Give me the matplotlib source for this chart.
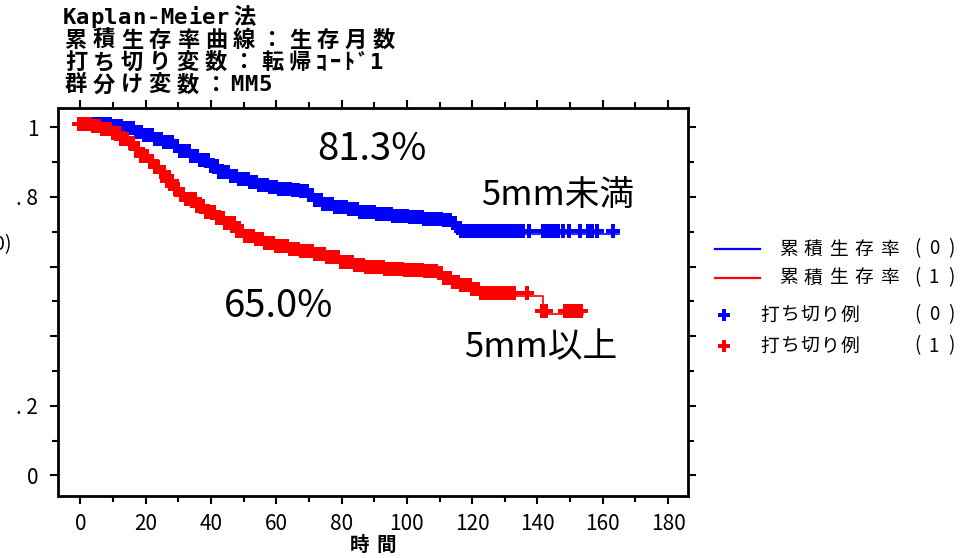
import numpy as np
import matplotlib
matplotlib.use('Agg')
import matplotlib.pyplot as plt
from matplotlib.lines import Line2D
from matplotlib.transforms import ScaledTranslation

plt.rcParams['font.family'] = ['Noto Sans CJK JP', 'DejaVu Sans']

# Kaplan-Meier step curves (month, survival after the step)
blue_t = [0, 10, 14, 17, 20, 23, 26, 29, 31, 34, 37, 40, 43, 46, 49, 52, 55, 58,
          61, 65, 68, 70, 72, 75, 78, 82, 86, 91, 96, 101, 106, 112, 114, 116, 117]
blue_s = [1.000, 0.995, 0.988, 0.978, 0.968, 0.958, 0.948, 0.936, 0.922, 0.910,
          0.896, 0.880, 0.864, 0.852, 0.843, 0.834, 0.826, 0.820, 0.815, 0.812,
          0.808, 0.796, 0.783, 0.772, 0.763, 0.756, 0.748, 0.742, 0.737, 0.733,
          0.729, 0.724, 0.715, 0.702, 0.694]
blue_end = 165.0

red_t = [0, 4, 7, 10, 13, 15, 17, 19, 21, 23, 25, 27, 29, 31, 33, 36, 39, 42, 45,
         48, 51, 54, 57, 60, 64, 68, 72, 76, 80, 84, 88, 94, 100, 106, 110, 112,
         114, 117, 120, 123, 141.7]
red_s = [1.000, 0.995, 0.985, 0.975, 0.958, 0.945, 0.928, 0.910, 0.895, 0.878,
         0.862, 0.838, 0.815, 0.798, 0.785, 0.765, 0.748, 0.732, 0.715, 0.693,
         0.680, 0.670, 0.658, 0.650, 0.642, 0.636, 0.628, 0.618, 0.603, 0.595,
         0.589, 0.585, 0.582, 0.578, 0.573, 0.558, 0.546, 0.537, 0.527, 0.515,
         0.463]
red_end = 153.9

# censored cases (months)
blue_cens = [0.4, 1.3, 2.1, 3.0, 3.8, 4.7, 5.6, 6.4, 7.2, 8.1, 9.0, 9.8, 10.6,
             11.5, 12.4, 13.1, 14.0, 14.9, 15.8, 16.6, 17.5, 18.3, 19.3, 20.1,
             20.9, 21.8, 22.7, 23.5, 24.3, 25.2, 26.1, 26.9, 27.8, 28.6, 29.5,
             30.3, 31.2, 32.0, 32.9, 33.8, 34.6, 35.5, 36.3, 37.2, 38.1, 38.9,
             39.8, 40.6, 41.5, 42.4, 43.2, 44.1, 44.9, 45.8, 46.7, 47.5, 48.4,
             49.2, 50.1, 51.0, 51.8, 52.7, 53.5, 54.4, 55.3, 56.1, 57.0, 57.8,
             58.7, 59.6, 60.4, 61.3, 62.1, 63.0, 63.9, 64.7, 65.6, 66.4, 67.3,
             68.2, 69.0, 69.9, 70.7, 71.6, 72.5, 73.3, 74.2, 75.0, 75.9, 76.8,
             77.6, 78.5, 79.3, 80.2, 81.1, 81.9, 82.8, 83.6, 84.5, 85.4, 86.2,
             87.1, 87.9, 88.8, 89.7, 90.5, 91.4, 92.2, 93.1, 94.0, 94.8, 95.7,
             96.5, 97.4, 98.3, 99.1, 100.0, 100.8, 101.7, 102.6, 103.4, 104.3,
             105.1, 106.0, 106.9, 107.7, 108.6, 109.4, 110.3, 111.2, 112.0,
             112.9, 113.7, 114.6, 115.5, 116.3, 117.3, 118.1, 119.0, 119.8,
             120.7, 121.6, 122.4, 123.3, 124.1, 125.0, 125.9, 126.7, 127.6,
             128.4, 129.3, 130.2, 131.0, 131.9, 132.7, 133.6, 134.5, 135.4,
             136.3, 138.0, 142.4, 143.5, 144.6, 145.8, 147.0, 148.4, 150.2,
             153.6, 156.2, 157.4, 158.8, 163.8]
red_cens = [0.3, 1.2, 2.0, 2.9, 3.7, 4.6, 5.5, 6.3, 7.2, 8.0, 8.9, 9.8, 10.6,
            11.5, 12.3, 13.2, 14.1, 14.9, 15.8, 16.6, 17.5, 18.4, 19.2, 20.1,
            20.9, 21.8, 22.7, 23.5, 24.4, 25.2, 26.1, 27.0, 27.8, 28.7, 29.5,
            30.4, 31.3, 32.1, 33.0, 33.8, 34.7, 35.6, 36.4, 37.3, 38.1, 39.0,
            39.9, 40.7, 41.6, 42.4, 43.3, 44.2, 45.0, 45.9, 46.7, 47.6, 48.5,
            49.3, 50.2, 51.0, 51.9, 52.8, 53.6, 54.5, 55.3, 56.2, 57.1, 57.9,
            58.8, 59.6, 60.5, 61.4, 62.2, 63.1, 63.9, 64.8, 65.7, 66.5, 67.4,
            68.2, 69.1, 70.0, 70.8, 71.7, 72.5, 73.4, 74.3, 75.1, 76.0, 76.8,
            77.7, 78.6, 79.4, 80.3, 81.1, 82.0, 82.9, 83.7, 84.6, 85.4, 86.3,
            87.2, 88.0, 88.9, 89.7, 90.6, 91.5, 92.3, 93.2, 94.0, 94.9, 95.8,
            96.6, 97.5, 98.3, 99.2, 100.1, 100.9, 101.8, 102.6, 103.5, 104.4,
            105.2, 106.1, 106.9, 107.8, 108.7, 109.5, 110.4, 111.2, 112.1,
            113.0, 113.8, 114.7, 115.5, 116.4, 117.3, 118.1, 119.0, 119.8,
            120.7, 121.6, 122.4, 123.3, 124.4, 125.3, 126.2, 127.1, 128.0,
            128.9, 129.8, 130.7, 131.6, 132.5, 133.4, 137.4, 142.1, 143.3,
            149.0, 150.3, 151.6, 152.8, 153.9]

x_ticks = [0, 20, 40, 60, 80, 100, 120, 140, 160, 180]
y_ticks = [0, 0.2, 0.4, 0.6, 0.8, 1.0]
y_labels = ['0', '. 2', '', '', '. 8', '1']

title_lines = ['Kaplan-Meier法', '累積生存率曲線：生存月数',
               '打ち切り変数：転帰ｺｰﾄﾞ1', '群分け変数：MM5']
legend_names = ['累積生存率', '累積生存率', '打ち切り例', '打ち切り例']
legend_groups = ['(0)', '(1)', '(0)', '(1)']

BLUE = '#0000ff'
RED = '#ff0000'
W, H = 978, 558

fig = plt.figure(figsize=(W / 100, H / 100), dpi=100)
ax = fig.add_axes([58.5 / W, 1 - 495.7 / H, (688 - 58.5) / W, (495.7 - 107.7) / H])

# censor marks sit a little up/left of the step line in the original
shift = ax.transData + ScaledTranslation(-2 / 100, 3 / 100, fig.dpi_scale_trans)

for t, s, end, cens, col in [(blue_t, blue_s, blue_end, blue_cens, BLUE),
                             (red_t, red_s, red_end, red_cens, RED)]:
    tt = np.array(t + [end])
    ss = np.array(s + [s[-1]])
    ax.step(tt, ss, where='post', color=col, lw=1.2, zorder=3)
    c = np.array(cens)
    idx = np.searchsorted(np.array(t), c, side='right') - 1
    ax.plot(c, np.array(s)[idx], 'P', color=col, ms=9.5, mew=0,
            transform=shift, zorder=4)

ax.set_xlim(-6.7, 186.1)
ax.set_ylim(-0.058, 1.056)
ax.set_xticks(x_ticks)
ax.set_xticks([10, 30, 50, 70, 90, 110, 130, 150, 170], minor=True)
ax.set_yticks(y_ticks)
ax.set_yticklabels(y_labels)
ax.set_yticks([0.1, 0.3, 0.5, 0.7, 0.9], minor=True)
ax.tick_params(which='both', direction='out', top=True, right=True,
               labelsize=15, width=1.5, colors='black')
ax.tick_params(which='major', length=5.5)
ax.tick_params(which='minor', length=4)
ax.tick_params(axis='x', pad=7)
ax.tick_params(axis='y', pad=9)
for sp in ax.spines.values():
    sp.set_linewidth(2.0)

# annotations
ax.text(89.3, 0.935, '81.3%', fontsize=27.5, ha='center', va='center')
ax.text(146.3, 0.803, '5mm未満', fontsize=25, ha='center', va='center')
ax.text(60.6, 0.484, '65.0%', fontsize=27.5, ha='center', va='center')
ax.text(141.1, 0.366, '5mm以上', fontsize=25, ha='center', va='center')


def is_half(ch):
    o = ord(ch)
    return o < 0x2E80 or 0xFF61 <= o <= 0xFF9F


def put_chars(s, x0, y, half, size, bold=True):
    x = x0
    wt = 'bold' if bold else 'normal'
    for ch in s:
        w = half if is_half(ch) else 2 * half
        fam = ['DejaVu Sans Mono', 'Noto Sans CJK JP'] if ord(ch) < 128 \
            else ['Noto Sans CJK JP', 'DejaVu Sans']
        fig.text((x + w / 2) / W, 1 - y / H, ch, ha='center', va='center',
                 fontsize=size, fontweight=wt, family=fam)
        x += w


# title block, fixed pitch like the original
for i, line in enumerate(title_lines):
    put_chars(line, 62, 18 + 22.3 * i, 14, 16)

put_chars('時間', 346, 545, 13.5, 14)

# y label, mostly cut off at the left edge
fig.text(12 / W, 1 - 245 / H, '生存率(0)', ha='right', va='center', fontsize=14)

# hand made legend
leg_y = [249, 278, 315, 346]
for i in range(4):
    col = BLUE if i % 2 == 0 else RED
    y = 1 - leg_y[i] / H
    if i < 2:
        fig.add_artist(Line2D([715 / W, 760 / W], [y, y], color=col, lw=1.6,
                              transform=fig.transFigure))
        x0, pitch = 788, 25.3
    else:
        fig.add_artist(Line2D([724 / W], [y], marker='P', color=col, ms=8,
                              mew=0, transform=fig.transFigure))
        x0, pitch = 770, 20.0
    for j, ch in enumerate(legend_names[i]):
        fig.text((x0 + pitch * j) / W, y, ch, ha='center', va='center',
                 fontsize=13.5)
    for j, ch in enumerate(legend_groups[i]):
        fig.text((917 + 17 * j) / W, y, ch, ha='center', va='center',
                 fontsize=13.5)

fig.savefig('out.png', dpi=100)
